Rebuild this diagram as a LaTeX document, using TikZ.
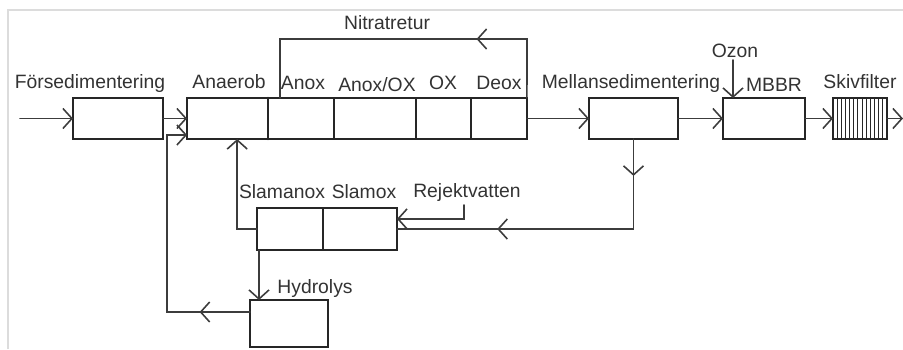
\documentclass[tikz,border=0pt]{standalone}
\usepackage{fontspec}
\setmainfont{Liberation Sans}
\usetikzlibrary{arrows.meta,positioning,calc,decorations.markings}
\definecolor{linegray}{HTML}{3C3C3C}
\definecolor{framegray}{HTML}{DCDCDC}

\begin{document}
\begin{tikzpicture}[x=0.02cm,y=-0.02cm,font=\fontsize{11}{13}\selectfont,line cap=round,
  vtip/.tip={Straight Barb[length=1.8mm,width=4mm]},
  box/.style={draw=black!85,line width=0.9pt,minimum height=0.82cm,inner sep=0pt,outer sep=0pt},
  lbl/.style={anchor=base,text=black!80,inner sep=1pt},
  line/.style={draw=linegray,line width=0.9pt},
  flow/.style={line,-vtip},
  midarr/.style={postaction={decorate,decoration={markings,mark=at position #1 with {\arrow{vtip}}}}}]
\useasboundingbox (0,0) rectangle (903,349);
\draw[framegray,line width=1.2pt,line cap=butt] (8,349) -- (8,10) -- (903,10);

\node[box,minimum width=1.8cm] (fsed) at (118,118.5) {};
\node[box,minimum width=1.62cm] (anaer) at (227.5,118.5) {};
\node[box,minimum width=1.32cm,right=0pt of anaer] (anox) {};
\node[box,minimum width=1.64cm,right=0pt of anox] (anoxox) {};
\node[box,minimum width=1.1cm,right=0pt of anoxox] (ox) {};
\node[box,minimum width=1.12cm,right=0pt of ox] (deox) {};
\node[box,minimum width=1.78cm] (msed) at (633.5,118.5) {};
\node[box,minimum width=1.64cm] (mbbr) at (764,118.5) {};
\node[box,minimum width=1.08cm] (skiv) at (860,118.5) {};
\node[box,minimum width=1.32cm,minimum height=0.84cm] (slamanox) at (290,229) {};
\node[box,minimum width=1.48cm,minimum height=0.84cm,right=0pt of slamanox] (slamox) {};
\node[box,minimum width=1.56cm,minimum height=0.94cm] (hydro) at (289,323.5) {};
\draw[black!85,line width=1.5pt] (anaer.north east) -- (anaer.south east);
\foreach \i in {1,...,12}
  \draw[black!85,line width=0.6pt] ($(skiv.north west)!\i/13!(skiv.north east)$) -- ($(skiv.south west)!\i/13!(skiv.south east)$);

\node[lbl] (lfsed) at (90,88) {Försedimentering};
\node[lbl] (lanaer) at (229,88) {Anaerob};
\node[lbl] (lanox) at (303,89) {Anox};
\node[lbl] (lanoxox) at (377,91) {Anox/OX};
\node[lbl] (lox) at (443,89) {OX};
\node[lbl] (ldeox) at (499,89) {Deox};
\node[lbl] (lnitr) at (387,29) {Nitratretur};
\node[lbl] (lmsed) at (631,88) {Mellansedimentering};
\node[lbl] (lozon) at (735,57) {Ozon};
\node[lbl] (lmbbr) at (774,91) {MBBR};
\node[lbl] (lskiv) at (860,88) {Skivfilter};
\node[lbl] (lslamanox) at (282,198) {Slamanox};
\node[lbl] (lslamox) at (364,198) {Slamox};
\node[lbl] (lrej) at (467,197) {Rejektvatten};
\node[lbl] (lhydro) at (315,293) {Hydrolys};

\coordinate (in) at (20,118.5);
\coordinate (out) at (903,118.5);
\coordinate (oz) at (733,60);
\coordinate (nr) at (527,39);
\coordinate (nl) at (280,39);
\coordinate (rj) at (464,205);
\coordinate (hr) at (167,312);
\coordinate (ha) at (167,135);
\coordinate (sb) at ([xshift=0.04cm]slamanox.south west);
\coordinate (mr) at (msed.south |- slamox.east);

\draw[flow] (in) -- (fsed.west);
\draw[flow] (fsed.east) -- (anaer.west);
\draw[flow] (deox.east) -- (msed.west);
\draw[flow] (msed.east) -- (mbbr.west);
\draw[flow] (mbbr.east) -- (skiv.west);
\draw[flow] (skiv.east) -- (out);
\draw[flow] (oz) -- (oz |- mbbr.north);
\draw[line,midarr=0.3] (deox.north east) -- (nr) -- (nl) -- (nl |- anox.north);
\draw[line,midarr=0.113,midarr=0.693] (msed.south) -- (mr) -- (slamox.east);
\draw[flow] (rj) |- ($(slamox.north east)!0.26!(slamox.south east)$);
\draw[flow] (slamanox.west) -| ($(anaer.south west)!0.62!(anaer.south east)$);
\draw[flow] (sb) -- (sb |- hydro.north);
\draw[flow,midarr=0.18] (hydro.west |- hr) -- (hr) -- (ha) -- (anaer.west |- ha);
\end{tikzpicture}
\end{document}
